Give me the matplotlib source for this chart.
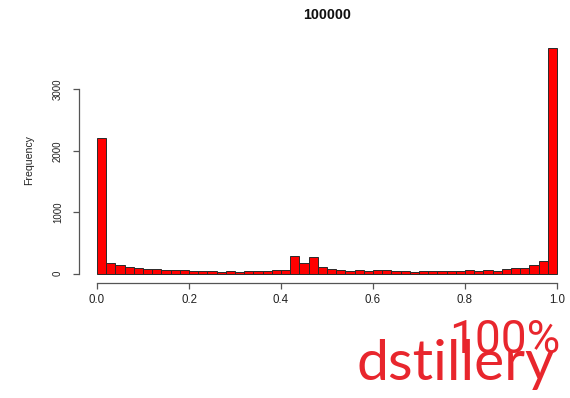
import matplotlib
matplotlib.use("Agg")
import matplotlib.pyplot as plt
import numpy as np

title = "100000"
ylabel = "Frequency"
bin_edges = [round(i * 0.02, 2) for i in range(51)]
counts = [2212, 174, 141, 109, 87, 71, 71, 54, 54, 54,
          43, 43, 43, 33, 50, 27, 45, 45, 45, 60,
          60, 293, 168, 266, 112, 76, 54, 43, 60, 43,
          60, 60, 43, 43, 33, 49, 49, 49, 49, 49,
          65, 49, 65, 49, 76, 92, 92, 141, 206, 3665]
xticks = [0.0, 0.2, 0.4, 0.6, 0.8, 1.0]
xticklabels = ["0.0", "0.2", "0.4", "0.6", "0.8", "1.0"]
yticks = [0, 1000, 2000, 3000]
yticklabels = ["0", "1000", "2000", "3000"]

plt.rcParams['font.family'] = ['Liberation Sans', 'DejaVu Sans']

fig = plt.figure(figsize=(5.70, 3.98), dpi=100)
W, H = 570, 398
left_px, right_px, top_px, bottom_px = 78.6, 575.4, 39.4, 282.7
ax = fig.add_axes([left_px / W, 1 - bottom_px / H,
                   (right_px - left_px) / W, (bottom_px - top_px) / H])

edges = np.array(bin_edges)
widths = np.diff(edges)
ax.bar(edges[:-1], counts, width=widths, align='edge',
       color='#ff0000', edgecolor='#2a2a2a', linewidth=0.7)

ymax = max(counts)
xr = edges[-1] - edges[0]
ax.set_xlim(edges[0] - 0.04 * xr, edges[-1] + 0.04 * xr)
ax.set_ylim(-0.04 * ymax, 1.04 * ymax)

for s in ['top', 'right']:
    ax.spines[s].set_visible(False)
axis_color = '#555555'
ax.spines['left'].set_bounds(yticks[0], yticks[-1])
ax.spines['bottom'].set_bounds(xticks[0], xticks[-1])
for s in ['left', 'bottom']:
    ax.spines[s].set_color(axis_color)
    ax.spines[s].set_linewidth(0.9)

ax.set_xticks(xticks)
ax.set_xticklabels(xticklabels, fontsize=8.3, color='#222222')
ax.set_yticks(yticks)
ax.set_yticklabels(yticklabels, fontsize=7.0, color='#222222',
                   rotation=90, va='center')
ax.tick_params(axis='x', length=4.3, width=0.9, color=axis_color, pad=4)
ax.tick_params(axis='y', length=4.3, width=0.9, color=axis_color, pad=7)

fig.text(29 / W, 1 - 160 / H, ylabel, rotation=90, ha='center', va='center',
         fontsize=7.6, color='#222222')
fig.text(327 / W, 1 - 15 / H, title, ha='center', va='center',
         fontsize=10.3, fontweight='bold', color='#111111')

logo_color = '#e8262d'
fig.text(356 / W, 1 - 380 / H, "dstillery", ha='left', va='baseline',
         fontsize=41, color=logo_color, family=['Lato', 'DejaVu Sans'])
fig.text(449 / W, 1 - 353 / H, "100%", ha='left', va='baseline',
         fontsize=33, color=logo_color,
         family=['Roboto', 'DejaVu Sans'])

fig.savefig("out.png", dpi=100)
